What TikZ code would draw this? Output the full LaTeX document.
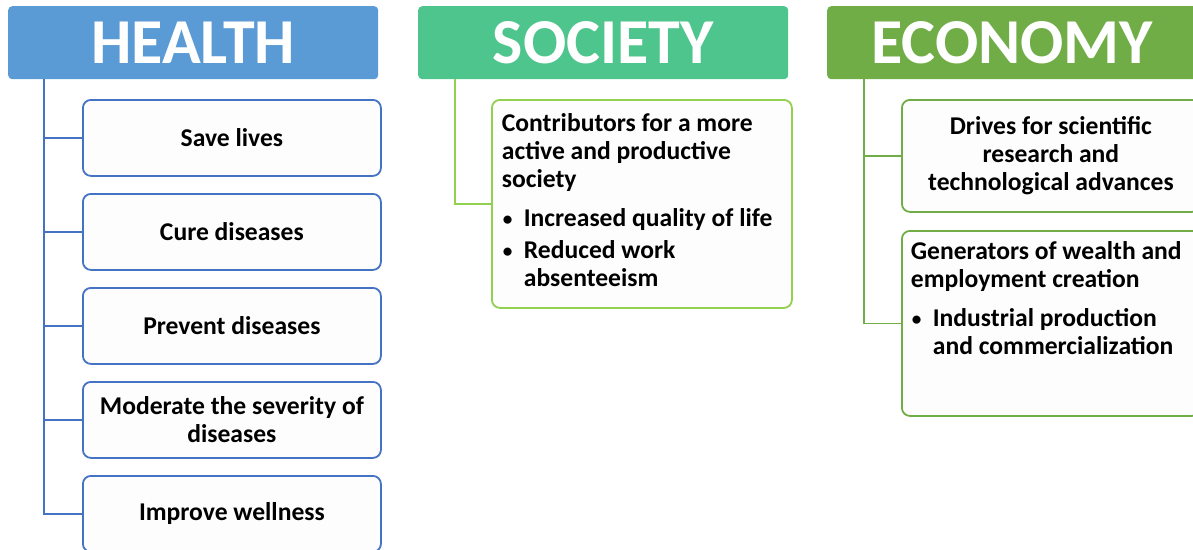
\documentclass[tikz,border=0pt]{standalone}
\usepackage{fontspec}
\usepackage{graphicx}
\setmainfont{Carlito}

\definecolor{healthhead}{HTML}{5B9BD5}
\definecolor{healthline}{HTML}{4472C4}
\definecolor{societyhead}{HTML}{4FC58E}
\definecolor{societyline}{HTML}{92D050}
\definecolor{economyhead}{HTML}{70AD47}
\definecolor{economyline}{HTML}{70AD47}
\definecolor{boxfill}{HTML}{FDFDFD}

% bullet line with hanging indent
\newcommand\bulline[1]{\par\hangindent=22pt\hangafter=1\noindent
  \hspace*{1pt}\makebox[21pt][l]{\raisebox{1pt}{\scalebox{0.75}{•}}}#1}

\begin{document}
\begin{tikzpicture}[x=1pt,y=-1pt,
  header/.style={rounded corners=4pt, minimum width=370pt, minimum height=73pt,
    anchor=north west, text=white, inner sep=0pt,
    font=\fontsize{64}{64}\selectfont\bfseries},
  itembox/.style={draw, line width=1.8pt, fill=boxfill, rounded corners=8pt,
    anchor=north west, minimum width=298pt,
    font=\fontsize{25.6}{28}\selectfont\bfseries},
  hbox/.style={itembox, draw=healthline, minimum height=76pt,
    text width=290pt, align=flush center, inner xsep=4pt},
  link/.style={line width=1.8pt},
]
\useasboundingbox (0,0) rectangle (1193,549);
\clip (0,0) rectangle (1193,549);

% column headers
\node[header, fill=healthhead] (health) at (8,6) {HEALTH};
\node[header, fill=societyhead] (society) at (418,6) {SOCIETY};
\node[header, fill=economyhead] (economy) at (827,6) {ECONOMY};

% health column
\node[hbox] (h1) at (82,99) {Save lives};
\node[hbox] (h2) at (82,193) {Cure diseases};
\node[hbox] (h3) at (82,287) {Prevent diseases};
\node[hbox] (h4) at (82,381) {Moderate the severity of\\diseases};
\node[hbox] (h5) at (82,475) {Improve wellness};

\coordinate (hs) at (44,79);
\draw[link, healthline] (hs) |- (h5.west);
\foreach \n in {h1,h2,h3,h4}
  \draw[link, healthline] (\n.west -| hs) -- (\n.west);

% society column
\node[itembox, draw=societyline, inner xsep=10pt, inner ysep=14pt]
  (s1) at (491,99) {\parbox[c][180pt][t]{280pt}{\raggedright
    Contributors for a more\newline active and productive\newline society\par
    \vspace{11pt}\bulline{Increased quality of life}\par
    \vspace{4pt}\bulline{Reduced work\newline absenteeism}}};

\coordinate (ss) at (455,79);
\draw[link, societyline] (ss) |- (s1.west);

% economy column
\node[itembox, draw=economyline, minimum height=112pt, text width=290pt,
  align=flush center, inner xsep=4pt] (e1) at (901,99)
  {Drives for scientific\\research and\\technological advances};
\node[itembox, draw=economyline, inner xsep=9pt, inner ysep=11pt]
  (e2) at (901,230) {\parbox[c][163pt][t]{280pt}{\raggedright
    Generators of wealth and\newline employment creation\par
    \vspace{11pt}\bulline{Industrial production\newline and commercialization}}};

\coordinate (es) at (864,79);
\draw[link, economyline] (es) |- (e2.west);
\draw[link, economyline] (e1.west -| es) -- (e1.west);
\end{tikzpicture}
\end{document}
